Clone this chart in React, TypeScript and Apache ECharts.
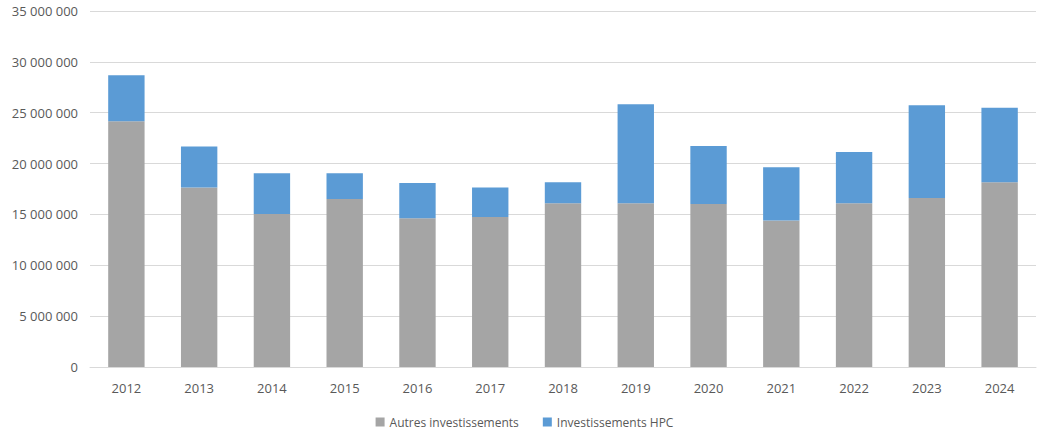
import React, { useEffect, useRef } from "react";
import * as echarts from "echarts";

const years = ["2012","2013","2014","2015","2016","2017","2018","2019","2020","2021","2022","2023","2024"];
const autres = [24160000,17640000,15040000,16520000,14620000,14750000,16100000,16100000,16030000,14400000,16100000,16620000,18160000];
const hpc = [4520000,4030000,4010000,2530000,3470000,2890000,2060000,9730000,5700000,5240000,5040000,9110000,7340000];
const seriesNames = ["Autres investissements", "Investissements HPC"];
const colors = ["#A5A5A5", "#5B9BD5"];

const fmt = (v: number) => String(Math.round(v)).replace(/\B(?=(\d{3})+(?!\d))/g, " ");

export default function App() {
  const ref = useRef<HTMLDivElement>(null);
  useEffect(() => {
    if (!ref.current) return;
    const chart = echarts.init(ref.current, null, { renderer: "svg" });
    const font = "'Open Sans', 'Noto Sans', sans-serif";
    chart.setOption({
      animation: false,
      textStyle: { fontFamily: font },
      grid: { left: 90, right: 13, top: 11, bottom: 68 },
      legend: {
        bottom: 2,
        left: "center",
        itemWidth: 9,
        itemHeight: 9,
        itemGap: 24,
        icon: "rect",
        textStyle: { color: "#595959", fontSize: 12, fontFamily: font },
        data: seriesNames,
      },
      xAxis: {
        type: "category",
        data: years,
        axisLine: { lineStyle: { color: "#D9D9D9" } },
        axisTick: { show: false },
        axisLabel: { color: "#595959", fontSize: 13, margin: 14, fontFamily: font },
      },
      yAxis: {
        type: "value",
        min: 0,
        max: 35000000,
        interval: 5000000,
        axisLine: { show: false },
        axisTick: { show: false },
        splitLine: { lineStyle: { color: "#D9D9D9" } },
        axisLabel: { color: "#595959", fontSize: 13, margin: 12, formatter: fmt, fontFamily: font },
      },
      series: [
        { name: seriesNames[0], type: "bar", stack: "t", data: autres, barWidth: "50%", itemStyle: { color: colors[0] } },
        { name: seriesNames[1], type: "bar", stack: "t", data: hpc, barWidth: "50%", itemStyle: { color: colors[1] } },
      ],
    });
    return () => chart.dispose();
  }, []);
  return <div ref={ref} style={{ width: 1049, height: 435, position: "absolute", left: 0, top: 0 }} />;
}
